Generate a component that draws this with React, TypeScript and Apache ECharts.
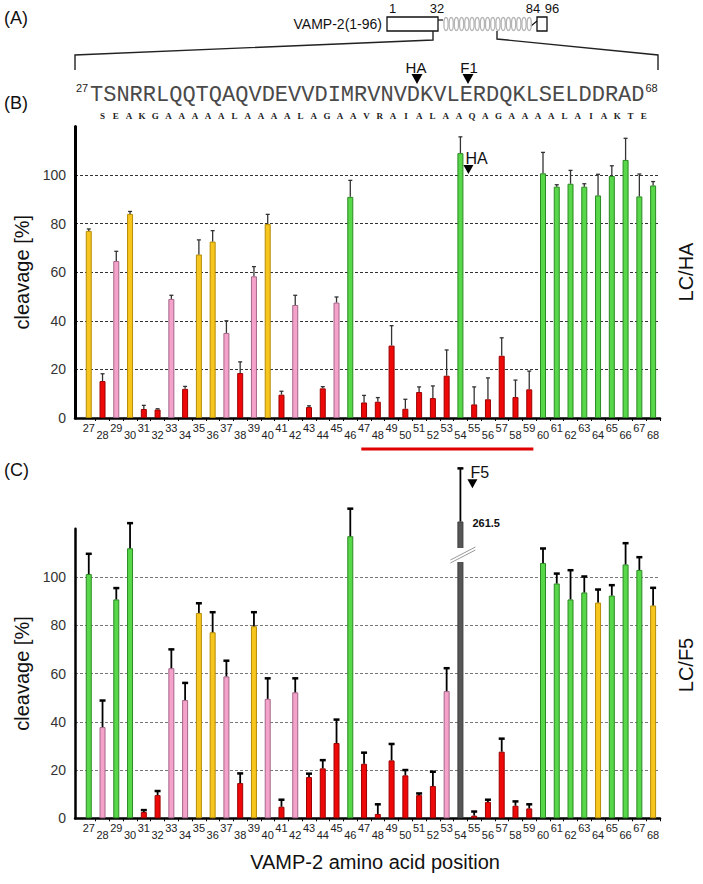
import React, { useEffect, useRef } from 'react';
import * as echarts from 'echarts';

// ---------- data ----------
const positions = [27, 28, 29, 30, 31, 32, 33, 34, 35, 36, 37, 38, 39, 40, 41, 42, 43, 44, 45, 46, 47, 48, 49, 50, 51, 52, 53, 54, 55, 56, 57, 58, 59, 60, 61, 62, 63, 64, 65, 66, 67, 68];

// Panel B: LC/HA
const haValues = [77, 15.2, 64.6, 84, 3.7, 3.5, 49, 12, 67.3, 72.6, 35, 18.5, 58.3, 79.8, 9.6, 46.5, 4.5, 12.2, 47.5, 91, 6.4, 6.7, 29.8, 3.8, 10.7, 8.2, 17.4, 109, 5.6, 7.7, 25.6, 8.6, 11.8, 100.7, 95.2, 96.4, 95.2, 91.6, 99.6, 106.2, 91.2, 95.7];
const haErrors = [0.8, 3, 4, 1, 1.5, 0.3, 1.5, 1, 6, 4.5, 5, 4.6, 4, 4, 1.4, 4, 0.5, 0.7, 2.3, 6.8, 2.9, 1.7, 8.2, 3.9, 2.1, 5, 10.6, 6.7, 7.2, 8.8, 7.4, 7, 7.5, 8.6, 0.8, 5.5, 1.2, 8.7, 4.2, 8.9, 9.2, 1.6];
const haClasses = ['Y', 'R', 'P', 'Y', 'R', 'R', 'P', 'R', 'Y', 'Y', 'P', 'R', 'P', 'Y', 'R', 'P', 'R', 'R', 'P', 'G', 'R', 'R', 'R', 'R', 'R', 'R', 'R', 'G', 'R', 'R', 'R', 'R', 'R', 'G', 'G', 'G', 'G', 'G', 'G', 'G', 'G', 'G'];

// Panel C: LC/F5
const f5Values = [101.2, 37.8, 90.7, 111.9, 2.6, 9.6, 62.2, 49, 85.1, 77.1, 58.8, 14.6, 79.6, 49.5, 4.8, 52.2, 17.1, 20.7, 31.2, 116.9, 22.6, 1.8, 24, 17.8, 9.6, 13.4, 52.7, 261.5, 1.1, 6.8, 27.6, 5.2, 4.1, 105.8, 97.3, 90.7, 93.6, 89.4, 92.3, 105.2, 102.9, 88.2];
const f5Errors = [8.4, 11, 4.7, 10.4, 0.8, 1.7, 7.8, 7.1, 4, 8.3, 6.5, 4, 5.8, 8.5, 2.9, 5.8, 1.4, 3.4, 9.7, 11.4, 4.6, 4, 6.8, 2.2, 0.7, 5.9, 9.5, 22, 1.7, 0.9, 5.4, 1.8, 1.7, 6, 4.1, 12.1, 6.6, 5.4, 4.3, 8.8, 5.3, 7.3];
const f5Classes = ['G', 'P', 'G', 'G', 'R', 'R', 'P', 'P', 'Y', 'Y', 'P', 'R', 'Y', 'P', 'R', 'P', 'R', 'R', 'R', 'G', 'R', 'R', 'R', 'R', 'R', 'R', 'P', 'K', 'R', 'R', 'R', 'R', 'R', 'G', 'G', 'G', 'G', 'Y', 'G', 'G', 'G', 'Y'];

const yTickLabels = [0, 20, 40, 60, 80, 100];
const Y_MAX = 120;
const F5_BREAK_TOP = 123; // drawn height of the broken (off-scale) bar
const F5_GAP = [106.2, 112]; // axis-break gap on the broken bar

const sequence = 'TSNRRLQQTQAQVDEVVDIMRVNVDKVLERDQKLSELDDRAD';
const mutations = 'SEAKGAAAAALAAAALAGAAVRAIALAAQAGAAAALAIAKTE';
const underlineRange = [46.8, 59.3];

const palette: Record<string, { fill: string; border: string }> = {
  Y: { fill: '#F6C51E', border: '#B58C08' },
  R: { fill: '#EE0808', border: '#9C0000' },
  P: { fill: '#F5A2CA', border: '#A4668A' },
  G: { fill: '#57D749', border: '#2B8A22' },
  K: { fill: '#565656', border: '#3C3C3C' },
};

const FONT = '"Liberation Sans", Arial, sans-serif';
const SERIF = '"Liberation Serif", "DejaVu Serif", serif';
const MONO = '"Liberation Mono", "Courier New", monospace';

function xAxisCfg(gridIndex: number) {
  return {
    type: 'value',
    gridIndex,
    min: 26,
    max: 68.5,
    interval: 1,
    axisLine: { show: true, onZero: false, lineStyle: { color: '#000', width: 2.5 } },
    axisTick: { show: true, length: 3, lineStyle: { color: '#000', width: 1 }, customValues: positions.map((p) => p + 0.5) },
    axisLabel: {
      customValues: positions,
      margin: 4,
      formatter: (v: number) => (v % 2 ? `{o|${v}}` : `{e|${v}}`),
      rich: {
        o: { fontSize: 11, color: '#222', fontFamily: FONT, padding: [0, 0, 7, 0] },
        e: { fontSize: 11, color: '#222', fontFamily: FONT, padding: [7, 0, 0, 0] },
      },
    },
    splitLine: { show: false },
  };
}

function yAxisCfg(gridIndex: number, gridColor: string, axisWidth: number) {
  return {
    type: 'value',
    gridIndex,
    min: 0,
    max: Y_MAX,
    interval: 20,
    name: 'cleavage [%]',
    nameLocation: 'middle',
    nameGap: 36,
    nameRotate: 90,
    nameTextStyle: { fontSize: 20, fontFamily: FONT, color: '#111' },
    axisLine: { show: true, lineStyle: { color: '#000', width: axisWidth } },
    axisTick: { show: false, customValues: yTickLabels },
    axisLabel: { customValues: yTickLabels, fontSize: 14, color: '#333', margin: 9, fontFamily: FONT },
    splitLine: { show: true, lineStyle: { type: [3, 2], color: gridColor, width: 1 } },
  };
}

function barData(values: number[], classes: string[]) {
  return positions.map((p, i) => {
    const v = values[i] > Y_MAX ? F5_BREAK_TOP : values[i];
    const c = palette[classes[i]];
    return { value: [p, v], itemStyle: { color: c.fill, borderColor: c.border, borderWidth: 1 } };
  });
}

function errData(values: number[], errors: number[]) {
  return positions.map((p, i) => [p, values[i] > Y_MAX ? F5_BREAK_TOP : values[i], errors[i]]);
}

function errSeries(idx: number, data: number[][], color: string, lw: number, capHalf: number, capW: number) {
  return {
    type: 'custom',
    xAxisIndex: idx,
    yAxisIndex: idx,
    clip: false,
    z: 5,
    encode: { x: 0, y: 1 },
    data,
    renderItem: (params: any, api: any) => {
      const x = api.value(0);
      const v = api.value(1);
      const e = api.value(2);
      const p0 = api.coord([x, v]);
      const p1 = api.coord([x, v + e]);
      return {
        type: 'group',
        children: [
          { type: 'line', shape: { x1: p0[0], y1: p0[1], x2: p1[0], y2: p1[1] }, style: { stroke: color, lineWidth: lw } },
          { type: 'line', shape: { x1: p1[0] - capHalf, y1: p1[1], x2: p1[0] + capHalf, y2: p1[1] }, style: { stroke: color, lineWidth: capW } },
        ],
      };
    },
  };
}

const option: any = {
  animation: false,
  backgroundColor: '#fff',
  grid: [
    { left: 75, right: 43, top: 126.4, height: 291.6 },
    { left: 75, right: 43, top: 528.7, height: 289.6 },
  ],
  xAxis: [xAxisCfg(0), xAxisCfg(1)],
  yAxis: [yAxisCfg(0, '#333', 3), yAxisCfg(1, '#777', 2.5)],
  series: [
    { type: 'bar', xAxisIndex: 0, yAxisIndex: 0, barWidth: 6, clip: false, data: barData(haValues, haClasses) },
    errSeries(0, errData(haValues, haErrors), '#333', 1.3, 2, 1.3),
    { type: 'bar', xAxisIndex: 1, yAxisIndex: 1, barWidth: 6, clip: false, data: barData(f5Values, f5Classes) },
    errSeries(1, errData(f5Values, f5Errors), '#000', 1.8, 3, 2.5),
  ],
};

function txt(text: string, x: number, y: number, size: number, extra: any = {}) {
  return {
    type: 'text',
    x,
    y,
    z: 20,
    style: { text, fontSize: size, fontFamily: FONT, fill: '#111', align: 'left', verticalAlign: 'middle', ...extra },
  };
}

function tri(cx: number, tipY: number, w: number, h: number) {
  return {
    type: 'polygon',
    z: 20,
    shape: { points: [[cx - w / 2, tipY - h], [cx + w / 2, tipY - h], [cx, tipY]] },
    style: { fill: '#000' },
  };
}

function buildGraphic(chart: any) {
  const px = (g: number, x: number, y: number) => chart.convertToPixel({ xAxisIndex: g, yAxisIndex: g }, [x, y]);
  const els: any[] = [];

  // panel labels
  els.push(txt('(A)', 4, 18, 18));
  els.push(txt('(B)', 4, 103, 18));
  els.push(txt('(C)', 4, 470, 18));

  // ---- (A) schematic ----
  els.push(txt('VAMP-2(1-96)', 382, 24, 14, { align: 'right' }));
  els.push({ type: 'rect', shape: { x: 387, y: 17, width: 51, height: 14 }, style: { fill: '#fff', stroke: '#111', lineWidth: 1.3 } });
  els.push({ type: 'rect', shape: { x: 537, y: 17, width: 10, height: 14 }, style: { fill: '#fff', stroke: '#111', lineWidth: 1.3 } });
  els.push({ type: 'line', shape: { x1: 438, y1: 20, x2: 443, y2: 20 }, style: { stroke: '#111', lineWidth: 1.2 } });
  els.push({ type: 'line', shape: { x1: 531, y1: 26, x2: 537, y2: 21 }, style: { stroke: '#111', lineWidth: 1.2 } });
  for (let k = 0; k < 17; k++) {
    els.push({ type: 'ellipse', shape: { cx: 446 + k * 5.2, cy: 24, rx: 2.1, ry: 6.5 }, style: { fill: 'none', stroke: '#b4b4b4', lineWidth: 1.3 } });
  }
  els.push(txt('1', 389, 8, 13));
  els.push(txt('32', 437, 8, 13, { align: 'center' }));
  els.push(txt('84', 533, 8, 13, { align: 'center' }));
  els.push(txt('96', 552, 8, 13, { align: 'center' }));
  // bracket
  els.push({ type: 'polyline', shape: { points: [[75, 70], [75, 55], [433, 40], [433, 31]] }, style: { stroke: '#222', lineWidth: 1.4, fill: null } });
  els.push({ type: 'polyline', shape: { points: [[658, 70], [658, 55], [497, 39], [497, 31]] }, style: { stroke: '#222', lineWidth: 1.4, fill: null } });
  // sequence (monospace, Courier metrics)
  const seqX = 90;
  const pitch = 13.2;
  els.push(txt('27', 76, 88, 11, { fill: '#222' }));
  els.push(txt(sequence, seqX, 95, 22, { fontFamily: MONO, fill: '#4a4a4a' }));
  els.push(txt('68', seqX + sequence.length * pitch + 1, 88, 11, { fill: '#222' }));
  mutations.split('').forEach((ch, i) => {
    els.push(txt(ch, 102.5 + pitch * i, 116, 9, { fontFamily: SERIF, fontWeight: 'bold', fill: '#222', align: 'center' }));
  });
  els.push(txt('HA', 416, 67, 15, { align: 'center' }));
  els.push(tri(417, 84, 11, 10));
  els.push(txt('F1', 469, 67, 15, { align: 'center' }));
  els.push(tri(468, 84, 11, 10));

  // ---- (B) annotations ----
  const ha = px(0, 54, 100);
  els.push(txt('HA', ha[0] + 5, ha[1] - 17, 16));
  els.push(tri(ha[0] + 8, ha[1] - 1, 10, 9));
  const u0 = px(0, underlineRange[0], 0);
  const u1 = px(0, underlineRange[1], 0);
  els.push({ type: 'line', shape: { x1: u0[0], y1: u0[1] + 31, x2: u1[0], y2: u1[1] + 31 }, style: { stroke: '#E00000', lineWidth: 3 } });
  const lcha: any = txt('LC/HA', 686, 272, 20, { align: 'center' });
  lcha.rotation = Math.PI / 2;
  els.push(lcha);

  // ---- (C) annotations ----
  const bTop = px(1, 54, F5_BREAK_TOP);
  const eTop = px(1, 54, F5_BREAK_TOP + f5Errors[27]);
  els.push(txt('F5', eTop[0] + 10, eTop[1] + 4, 16));
  els.push(tri(eTop[0] + 12, eTop[1] + 20, 10, 9));
  els.push(txt(String(f5Values[27]), bTop[0] + 12, bTop[1] + 2, 11, { fontWeight: 'bold' }));
  const g0 = px(1, 54, F5_GAP[1]);
  const g1 = px(1, 54, F5_GAP[0]);
  els.push({ type: 'rect', z: 10, shape: { x: g0[0] - 5, y: g0[1], width: 10, height: g1[1] - g0[1] }, style: { fill: '#fff' } });
  els.push({ type: 'line', z: 11, shape: { x1: g0[0] - 10, y1: g1[1] - 2, x2: g0[0] + 15, y2: g0[1] - 1 }, style: { stroke: '#999', lineWidth: 1 } });
  els.push({ type: 'line', z: 11, shape: { x1: g0[0] - 10, y1: g1[1] + 1, x2: g0[0] + 15, y2: g0[1] + 2 }, style: { stroke: '#999', lineWidth: 1 } });
  const lcf5: any = txt('LC/F5', 686, 665, 20, { align: 'center' });
  lcf5.rotation = Math.PI / 2;
  els.push(lcf5);

  els.push(txt('VAMP-2 amino acid position', 375, 862, 20, { align: 'center' }));
  return els;
}

export default function App() {
  const ref = useRef<HTMLDivElement>(null);
  useEffect(() => {
    const chart = echarts.init(ref.current as HTMLDivElement, null, { renderer: 'svg' });
    chart.setOption(option);
    chart.setOption({ graphic: buildGraphic(chart) });
    return () => chart.dispose();
  }, []);
  return <div ref={ref} style={{ position: 'fixed', left: 0, top: 0, width: 703, height: 884, background: '#fff' }} />;
}
